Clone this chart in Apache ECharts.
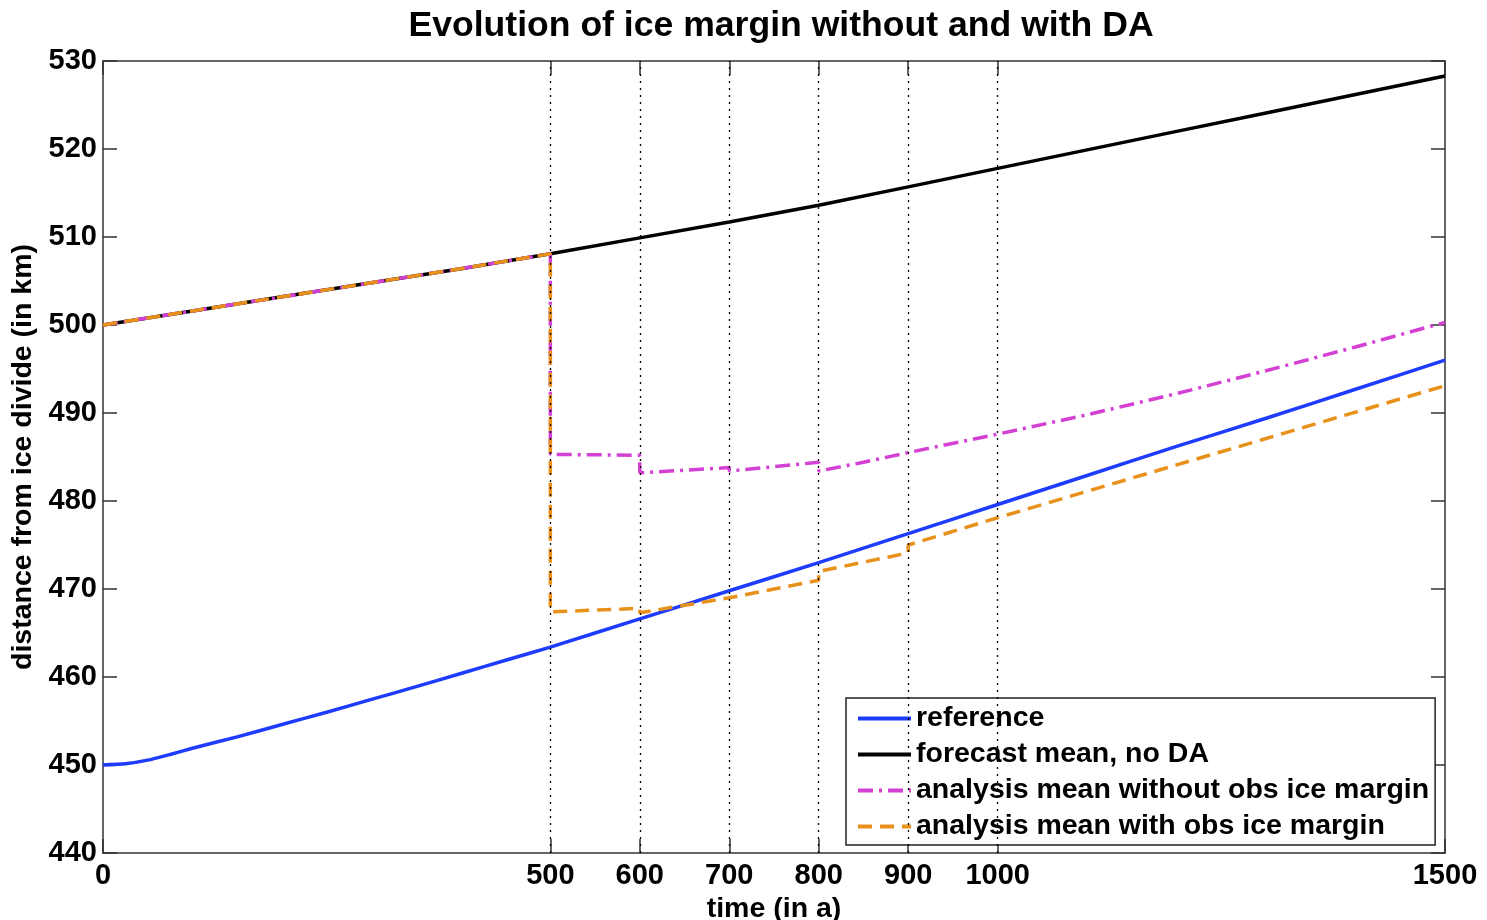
<!DOCTYPE html>
<html>
<head>
<meta charset="utf-8">
<title>Evolution of ice margin without and with DA</title>
<script src="https://cdn.jsdelivr.net/npm/echarts@6/dist/echarts.min.js"></script>
<style>
  html, body { margin: 0; padding: 0; background: #fff; }
  #chart { width: 1487px; height: 920px; }
</style>
</head>
<body>
<div id="chart"></div>
<script>
// Time axis (years) and the observation times marked by dotted lines
const xTickValues = [0, 500, 600, 700, 800, 900, 1000, 1500];
const obsTimes = [500, 600, 700, 800, 900, 1000];

// Reference run: ice margin distance (km)
const referenceTime = [0, 25, 50, 75, 100, 150, 200, 250, 300, 350, 400, 450, 500, 600, 700, 800, 900, 1000, 1100, 1200, 1300, 1400, 1500];
const referenceKm   = [450.0, 450.14, 450.55, 451.2, 451.9, 453.2, 454.6, 456.0, 457.45, 458.9, 460.4, 461.9, 463.4, 466.6, 469.8, 473.0, 476.3, 479.6, 482.9, 486.2, 489.4, 492.7, 496.0];

// Forecast ensemble mean without assimilation
const forecastTime = [0, 100, 200, 300, 400, 500, 600, 700, 800, 900, 1000, 1100, 1200, 1300, 1400, 1500];
const forecastKm   = [500.0, 501.6, 503.2, 504.8, 506.4, 508.1, 509.9, 511.7, 513.6, 515.7, 517.8, 519.9, 522.0, 524.1, 526.2, 528.3];

// Analysis mean, ice margin not observed (repeated times = analysis updates)
const analysisNoObsTime = [0, 100, 200, 300, 400, 500, 500, 600, 600, 700, 700, 800, 800, 850, 900, 1000, 1100, 1200, 1300, 1400, 1500];
const analysisNoObsKm   = [500.0, 501.6, 503.2, 504.8, 506.4, 508.1, 485.3, 485.2, 483.2, 483.8, 483.4, 484.4, 483.4, 484.4, 485.5, 487.6, 489.8, 492.2, 494.8, 497.5, 500.3];

// Analysis mean, ice margin observed
const analysisObsTime = [0, 100, 200, 300, 400, 500, 500, 600, 600, 700, 800, 800, 900, 900, 1000, 1100, 1200, 1300, 1400, 1500];
const analysisObsKm   = [500.0, 501.6, 503.2, 504.8, 506.4, 508.1, 467.4, 467.8, 467.3, 469.0, 471.0, 472.0, 474.1, 475.0, 478.1, 481.1, 484.1, 487.1, 490.1, 493.1];

const seriesNames = [
  'reference',
  'forecast mean, no DA',
  'analysis mean without obs ice margin',
  'analysis mean with obs ice margin'
];

const zip = (xs, ys) => xs.map((x, i) => [x, ys[i]]);

const FONT = '"Liberation Sans", Arial, Helvetica, sans-serif';
const FRAME = '#333333';
const textStyle = { fontFamily: FONT, fontSize: 28.5, fontWeight: 'bold', color: '#000' };
const tickText = { fontFamily: FONT, fontSize: 29, fontWeight: 'bold', color: '#000' };
const LW = 3.5;

const chart = echarts.init(document.getElementById('chart'), null, { renderer: 'canvas' });

const baseLine = { type: 'line', showSymbol: false, symbol: 'none', animation: false };

chart.setOption({
  backgroundColor: '#ffffff',
  animation: false,
  title: {
    text: 'Evolution of ice margin without and with DA',
    left: 776,
    textAlign: 'center',
    top: 3,
    textStyle: { fontFamily: FONT, fontSize: 35.6, fontWeight: 'bold', color: '#000' }
  },
  grid: { left: 103, right: 42, top: 61, bottom: 67, containLabel: false, outerBoundsMode: 'none' },
  legend: {
    orient: 'vertical',
    left: 846,
    top: 698,
    padding: [6, 6, 4, 10],
    itemWidth: 53,
    itemHeight: 28,
    itemGap: 7,
    backgroundColor: '#ffffff',
    borderColor: '#222222',
    borderWidth: 1.5,
    borderRadius: 0,
    itemStyle: { opacity: 0 },
    lineStyle: { width: 4 },
    textStyle: textStyle,
    data: seriesNames.map(n => ({ name: n })),
    selectedMode: false
  },
  xAxis: [
    {
      type: 'value',
      position: 'bottom',
      min: 0,
      max: 1500,
      name: 'time (in a)',
      nameLocation: 'middle',
      nameGap: 35,
      nameTextStyle: textStyle,
      axisLine: { show: true, onZero: false, lineStyle: { color: FRAME, width: 1.5 } },
      axisTick: { show: true, inside: true, length: 14, customValues: xTickValues, lineStyle: { color: FRAME, width: 1.5 } },
      axisLabel: { show: true, margin: 8, customValues: xTickValues, formatter: v => String(v), ...tickText },
      splitLine: { show: false }
    },
    {
      type: 'value',
      position: 'top',
      min: 0,
      max: 1500,
      axisLine: { show: true, onZero: false, lineStyle: { color: FRAME, width: 1.5 } },
      axisTick: { show: true, inside: true, length: 14, customValues: xTickValues, lineStyle: { color: FRAME, width: 1.5 } },
      axisLabel: { show: false },
      splitLine: { show: false }
    }
  ],
  yAxis: [
    {
      type: 'value',
      position: 'left',
      min: 440,
      max: 530,
      interval: 10,
      name: 'distance from ice divide (in km)',
      nameLocation: 'middle',
      nameGap: 61,
      nameRotate: 90,
      nameTextStyle: textStyle,
      axisLine: { show: true, onZero: false, lineStyle: { color: FRAME, width: 1.5 } },
      axisTick: { show: true, inside: true, length: 14, lineStyle: { color: FRAME, width: 1.5 } },
      axisLabel: { show: true, margin: 6, ...tickText },
      splitLine: { show: false }
    },
    {
      type: 'value',
      position: 'right',
      min: 440,
      max: 530,
      interval: 10,
      axisLine: { show: true, onZero: false, lineStyle: { color: FRAME, width: 1.5 } },
      axisTick: { show: true, inside: true, length: 14, lineStyle: { color: FRAME, width: 1.5 } },
      axisLabel: { show: false },
      splitLine: { show: false }
    }
  ],
  series: [
    {
      // dotted lines at the observation/analysis times
      ...baseLine,
      name: 'obsTimes',
      data: [],
      silent: true,
      markLine: {
        silent: true,
        symbol: ['none', 'none'],
        label: { show: false },
        animation: false,
        lineStyle: { color: '#000000', type: [2, 5], width: 1.3 },
        data: obsTimes.map(t => ({ xAxis: t }))
      }
    },
    {
      ...baseLine,
      name: seriesNames[0],
      data: zip(referenceTime, referenceKm),
      smooth: 0.2,
      lineStyle: { color: '#1e3cff', width: LW, type: 'solid' },
      itemStyle: { color: '#1e3cff' }
    },
    {
      ...baseLine,
      name: seriesNames[1],
      data: zip(forecastTime, forecastKm),
      lineStyle: { color: '#000000', width: LW, type: 'solid' },
      itemStyle: { color: '#000000' }
    },
    {
      ...baseLine,
      name: seriesNames[2],
      data: zip(analysisNoObsTime, analysisNoObsKm),
      lineStyle: { color: '#d43fd4', width: LW, type: [15, 6, 3, 6] },
      itemStyle: { color: '#d43fd4' }
    },
    {
      ...baseLine,
      name: seriesNames[3],
      data: zip(analysisObsTime, analysisObsKm),
      lineStyle: { color: '#e8911a', width: LW, type: [14, 8] },
      itemStyle: { color: '#e8911a' }
    }
  ]
});
</script>
</body>
</html>
